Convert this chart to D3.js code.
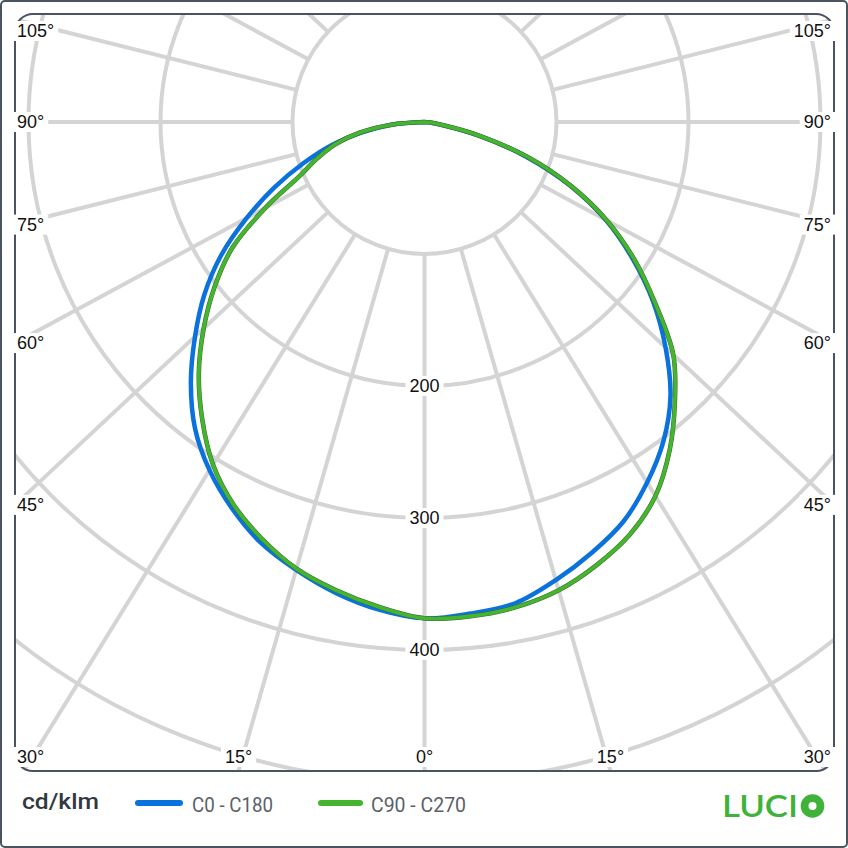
<!DOCTYPE html>
<html><head><meta charset="utf-8">
<script src="https://cdn.jsdelivr.net/npm/d3@7"></script>
<style>html,body{margin:0;padding:0;background:#fff;} svg{display:block}</style>
</head><body><svg id="chart" width="848" height="848"></svg>
<script>
// ---------------- data ----------------
const gammaAngles = [0,5,10,15,20,25,30,35,40,45,50,55,60,65,70,75,80,85,90];
const c0   = [375,374,371,361,350,338,321,302,279,250,220,188,156,120,81,42,12,3,0];
const c180 = [376,371,363,353,342,327,310,290,265,238,212,184,153,124,97,73,48,25,0];
const c90  = [376,376,374,369,360,349,333,310,284,258,222,190,157,121,83,43,13,3,0];
const c270 = [376,369,361,352,339,324,305,281,256,229,202,174,137,104,86,70,50,25,0];
const radialTicks = [100,200,300,400,500,600];
const radialLabels = [200,300,400];
const angleTicks = d3.range(0,360,15);
const angleLabels = [0,15,30,45,60,75,90,105];
const seriesNames = ["C0 - C180","C90 - C270"];
const seriesColors = ["#0a72dc","#45b52f"];
const unitLabel = "cd/klm";
const brandText = "LUCI";

// ---------------- layout ----------------
const frame = {x0:15, y0:14, x1:834, y1:771, rx:18};
const cx = 424.5, cy = 122;
const r = d3.scaleLinear().domain([0,100]).range([0,132]);
const K = 0.935;
const toRad = d3.scaleLinear().domain([0,180]).range([0,Math.PI]);
function dispAngle(g){ const a = toRad(g); return Math.atan2(Math.sin(a), K*Math.cos(a)); }
function pt(g, v){ const t = dispAngle(g); return [cx + r(v)*Math.sin(t), cy + r(v)*Math.cos(t)]; }

const svg = d3.select("#chart");
svg.append("rect").attr("x",1).attr("y",1).attr("width",846).attr("height",846).attr("rx",4)
  .attr("fill","#fff").attr("stroke","#4a5361").attr("stroke-width",2);

const defs = svg.append("defs");
defs.append("clipPath").attr("id","plotclip").append("rect")
  .attr("x",frame.x0).attr("y",frame.y0).attr("width",frame.x1-frame.x0).attr("height",frame.y1-frame.y0).attr("rx",frame.rx);

const plot = svg.append("g").attr("clip-path","url(#plotclip)");
const gridColor = "#d4d4d4";
plot.selectAll("circle.ring").data(radialTicks).join("circle").attr("class","ring")
  .attr("cx",cx).attr("cy",cy).attr("r",d=>r(d)).attr("fill","none")
  .attr("stroke",gridColor).attr("stroke-width",4);
plot.selectAll("line.spoke").data(angleTicks).join("line").attr("class","spoke")
  .attr("x1",d=>pt(d,100)[0]).attr("y1",d=>pt(d,100)[1])
  .attr("x2",d=>pt(d,900)[0]).attr("y2",d=>pt(d,900)[1])
  .attr("stroke",gridColor).attr("stroke-width",4);

// curves
const line = d3.line().curve(d3.curveCatmullRom.alpha(0.5));
function curvePoints(left, right){
  const pts = [];
  for (let i = gammaAngles.length-1; i >= 0; i--) pts.push(pt(-gammaAngles[i], left[i]));
  for (let i = 1; i < gammaAngles.length; i++) pts.push(pt(gammaAngles[i], right[i]));
  return pts;
}
plot.append("path").attr("d", line(curvePoints(c180, c0)))
  .attr("fill","none").attr("stroke",seriesColors[0]).attr("stroke-width",4.5).attr("stroke-linejoin","round");
plot.append("path").attr("d", line(curvePoints(c270, c90)))
  .attr("fill","none").attr("stroke","#3b6e2c").attr("stroke-width",4.6).attr("stroke-linejoin","round");
plot.append("path").attr("d", line(curvePoints(c270, c90)))
  .attr("fill","none").attr("stroke",seriesColors[1]).attr("stroke-width",3.6).attr("stroke-linejoin","round");

// frame
svg.append("rect").attr("x",frame.x0).attr("y",frame.y0).attr("width",frame.x1-frame.x0)
  .attr("height",frame.y1-frame.y0).attr("rx",frame.rx).attr("fill","none")
  .attr("stroke","#4a5361").attr("stroke-width",2);

// radial labels
const labelFont = "'Liberation Sans', Arial, Helvetica, sans-serif";
const rl = svg.append("g");
radialLabels.forEach(v => {
  const p = pt(0, v);
  const g = rl.append("g");
  const t = g.append("text").attr("x",p[0]).attr("y",p[1]).attr("text-anchor","middle")
    .attr("dominant-baseline","central").attr("font-family",labelFont).attr("font-size",18)
    .attr("fill","#111").text(v);
  const w = t.node().getComputedTextLength();
  g.insert("rect","text").attr("x",p[0]-w/2-4).attr("y",p[1]-10).attr("width",w+8).attr("height",20).attr("fill","#fff");
});

// angle labels at the frame edge
function edgeHit(g){
  const t = dispAngle(g); const dx = Math.sin(t), dy = Math.cos(t);
  let s = Infinity;
  if (dx > 1e-9) s = Math.min(s, (frame.x1-cx)/dx);
  if (dx < -1e-9) s = Math.min(s, (frame.x0-cx)/dx);
  if (dy > 1e-9) s = Math.min(s, (frame.y1-cy)/dy);
  if (dy < -1e-9) s = Math.min(s, (frame.y0-cy)/dy);
  return [cx+s*dx, cy+s*dy];
}
const al = svg.append("g");
const labelSet = [];
angleLabels.forEach(a => { labelSet.push(a); if (a) labelSet.push(-a); });
labelSet.forEach(a => {
  const p = edgeHit(a);
  const g = al.append("g");
  const t = g.append("text").attr("text-anchor","middle").attr("dominant-baseline","central")
    .attr("font-family",labelFont).attr("font-size",18).attr("fill","#111").text(Math.abs(a)+"°");
  const w = t.node().getComputedTextLength();
  const x = Math.max(frame.x0+2+w/2, Math.min(frame.x1-3-w/2, p[0]));
  const y = Math.max(frame.y0+17, Math.min(frame.y1-14, p[1]));
  t.attr("x",x).attr("y",y);
  g.insert("rect","text").attr("x",x-w/2-4).attr("y",y-10).attr("width",w+8).attr("height",20).attr("fill","#fff");
});

// legend
const legendFont = "Roboto, 'Noto Sans', sans-serif";
svg.append("text").attr("x",22).attr("y",809).attr("font-family",legendFont).attr("font-weight",500)
  .attr("font-size",22).attr("fill","#33383e").attr("textLength",77).attr("lengthAdjust","spacingAndGlyphs").text(unitLabel);
const legItems = [{x1:138,x2:180,tx:192,tl:81},{x1:321,x2:360,tx:371,tl:95}];
legItems.forEach((it,i) => {
  svg.append("line").attr("x1",it.x1).attr("x2",it.x2).attr("y1",803).attr("y2",803)
    .attr("stroke",seriesColors[i]).attr("stroke-width",6).attr("stroke-linecap","round");
  svg.append("text").attr("x",it.tx).attr("y",812).attr("font-family",legendFont).attr("font-size",20)
    .attr("fill","#5b6168").attr("textLength",it.tl).attr("lengthAdjust","spacingAndGlyphs").text(seriesNames[i]);
});
// brand
const brandGreen = "#3fb23a";
svg.append("text").attr("x",722).attr("y",817).attr("font-family","Lato, 'Open Sans', sans-serif")
  .attr("font-weight",600).attr("font-size",31).attr("fill",brandGreen).attr("textLength",76).attr("lengthAdjust","spacingAndGlyphs").text(brandText);
svg.append("circle").attr("cx",812.5).attr("cy",806).attr("r",11.8).attr("fill",brandGreen);
svg.append("circle").attr("cx",812.5).attr("cy",806).attr("r",4).attr("fill","#fff");
</script></body></html>
